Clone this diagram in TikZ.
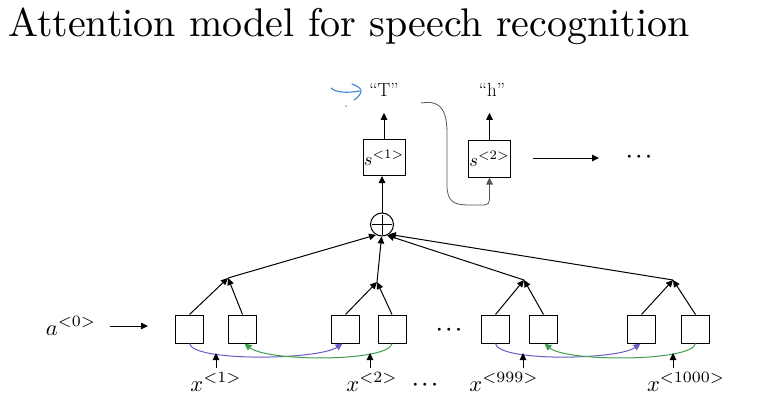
\documentclass[tikz,border=0pt]{standalone}
\usepackage{graphicx}
\usetikzlibrary{arrows.meta}
\definecolor{pur}{HTML}{6A5BC4}
\definecolor{grn}{HTML}{3F9E4E}
\definecolor{blu}{HTML}{3A86D8}
\definecolor{curvegray}{HTML}{555555}
\newcommand{\mylab}[1]{\scalebox{2.25}{$#1$}}
\newcommand{\mysdec}[1]{\scalebox{1.85}{$#1$}}
\newcommand{\mydots}{\scalebox{1.9}{\boldmath$\cdots$}}
\begin{document}
\begin{tikzpicture}[x=1pt,y=-1pt,
  tip/.tip={Triangle[length=7pt,width=6.5pt]},
  arr/.style={-tip, line width=1pt},
  cell/.style={draw, line width=1pt, minimum size=28pt, inner sep=0pt},
  sbox/.style={draw, line width=1pt, minimum width=42pt, minimum height=36pt, inner sep=0pt},
  lab/.style={inner sep=0pt},
  quote/.style={font=\fontsize{19}{21}\selectfont, inner sep=0pt},
  dotsnode/.style={inner sep=0pt},
  link/.style={line width=1pt, -tip}]
\useasboundingbox (0,0) rectangle (768,409);

% title
\node[anchor=base west, inner sep=0pt] (title) at (8,37) {\scalebox{4}{Attention model for speech recognition}};

% encoder cells
\node[cell] (b1) at (189.5,329) {};
\node[cell] (b2) at (242.5,329) {};
\node[cell] (b3) at (345.5,329) {};
\node[cell] (b4) at (392,329) {};
\node[cell] (b5) at (495.5,329) {};
\node[cell] (b6) at (543.5,329) {};
\node[cell] (b7) at (641.5,329) {};
\node[cell] (b8) at (695.5,329) {};

% junctions
\coordinate (j1) at (228,278);
\coordinate (j2) at (377,282);
\coordinate (j3) at (524,280);
\coordinate (j4) at (673,280);

\draw[arr] (b1.north) -- (j1);
\draw[arr] (b2.north) -- (j1);
\draw[arr] (b3.north) -- (j2);
\draw[arr] (b4.north) -- (j2);
\draw[arr] (b5.north) -- (j3);
\draw[arr] (b6.north) -- (j3);
\draw[arr] (b7.north) -- (j4);
\draw[arr] (b8.north) -- (j4);

% plus
\node[draw, circle, line width=1pt, minimum size=23pt, inner sep=0pt] (p) at (382,224.5) {};
\draw[line width=1pt] ([xshift=2pt]p.west) -- ([xshift=-2pt]p.east);
\draw[line width=1pt] ([yshift=-2pt]p.north) -- ([yshift=2pt]p.south);

\draw[arr] (j1) -- (p.240);
\draw[arr] (j2) -- (p.268);
\draw[arr] (j3) -- (p.295);
\draw[arr] (j4) -- (p.305);

% decoder
\node[sbox] (s1) at (384,157.5) {\mysdec{s^{<1>}}};
\node[sbox] (s2) at (489.5,159) {\mysdec{s^{<2>}}};
\draw[arr] (p.north) -- (p.north |- s1.south);

\node[quote] (T) at (384,90) {“T”};
\node[quote] (h) at (492,90) {“h”};
\draw[arr] (s1.north) -- ([yshift=-16pt]T.south);
\draw[arr] (s2.north) -- ([yshift=-16pt]h.south -| s2.north);

\coordinate (c0) at (421,103);
\draw[curvegray, line width=0.8pt, -tip] (c0) .. controls (450,98) and (447,125) .. (447,150) -- (447,185)
   .. controls (447,203) and (455,205) .. (470,205) -- (482,205)
   .. controls (489,205) and (489.5,203) .. (489.5,197) -- (s2.south);

\coordinate (s2out) at (533,158);
\coordinate (s2end) at (599,158);
\draw[arr] (s2out) -- (s2end);
\node[dotsnode] (d1) at (639,157) {\mydots};

% a0
\node[lab] (a0) at (71,326) {\mylab{a^{<0>}}};
\coordinate (aend) at (148,326);
\draw[arr] ([xshift=14pt]a0.east) -- (aend);

% bidirectional curves
\draw[pur, link] (b1.south) .. controls (193,362) and (318,360) .. ([xshift=-3pt]b3.south);
\draw[grn, link] (b4.south) .. controls (389,362) and (268,362) .. ([xshift=2pt]b2.south);
\draw[pur, link] (b5.south) .. controls (498,362) and (618,360) .. ([xshift=-1pt]b7.south);
\draw[grn, link] (b8.south) .. controls (692,362) and (566,362) .. ([xshift=1pt]b6.south);

% inputs
\coordinate (xa1) at (216,368);
\coordinate (xa2) at (370,368);
\coordinate (xa3) at (523,368);
\coordinate (xa4) at (673,368);
\draw[arr] (xa1) -- ++(0,-15);
\draw[arr] (xa2) -- ++(0,-15);
\draw[arr] (xa3) -- ++(0,-15);
\draw[arr] (xa4) -- ++(0,-15);

\node[lab] (x1) at (216,382) {\mylab{x^{<1>}}};
\node[lab] (x2) at (372,382) {\mylab{x^{<2>}}};
\node[lab] (x3) at (504,382) {\mylab{x^{<999>}}};
\node[lab] (x4) at (686,382) {\mylab{x^{<1000>}}};

\node[dotsnode] (d2) at (449,330) {\mydots};
\node[dotsnode] (d3) at (425,385) {\mydots};

% blue handwritten mark
\draw[blu, line width=1.1pt, line cap=round] (331,88) .. controls (336,93) and (348,93) .. (360,91);
\draw[blu, line width=1.1pt, line cap=round] (352,84) .. controls (358,86) and (362,89) .. (361,92) .. controls (360,95) and (357,98) .. (354,100);
\fill[blu] (346,106) circle (0.8pt);
\end{tikzpicture}
\end{document}
